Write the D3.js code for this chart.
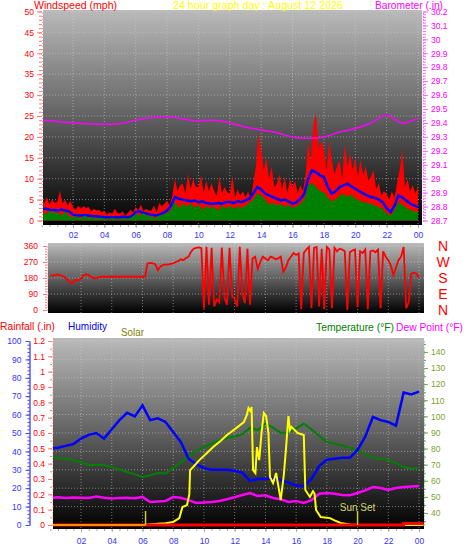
<!DOCTYPE html>
<html><head><meta charset="utf-8">
<script src="https://cdn.jsdelivr.net/npm/d3@7"></script>
<style>body{margin:0;background:#fff}svg{display:block;font-family:"Liberation Sans",Arial,sans-serif}</style>
</head><body><svg id="c" width="470" height="554"></svg>
<script>
// ---------------- DATA ----------------
const hourTicks = [2,4,6,8,10,12,14,16,18,20,22,24];
const hourLabels = ["02","04","06","08","10","12","14","16","18","20","22","00"];
const windTicks = [0,5,10,15,20,25,30,35,40,45,50];
const baroTicks = [28.7,28.8,28.9,29,29.1,29.2,29.3,29.4,29.5,29.6,29.7,29.8,29.9,30,30.1,30.2];
const dirTicks = [0,90,180,270,360];
const dirLetters = ["N","E","S","W","N"];
const humTicks = [0,10,20,30,40,50,60,70,80,90,100];
const rainTicks = [0,0.1,0.2,0.3,0.4,0.5,0.6,0.7,0.8,0.9,1,1.1,1.2];
const tempTicks = [40,50,60,70,80,90,100,110,120,130,140];

// wind gust, 10-minute samples (mph)
const gustStepHours = 1/6;
const windGust = [5.5,4.0,5.6,3.8,5.0,4.2, 4.5,7.2,4.0,5.0,3.5,4.8, 3.2,2.6,3.5,2.8,3.4,3.0,
  3.2,2.2,2.8,2.4,2.6,2.0, 2.4,1.4,2.0,1.6,2.8,1.8, 1.6,2.2,1.2,1.8,2.6,2.0,
  3.2,2.4,3.8,2.2,2.8,2.4, 2.4,3.6,2.0,4.2,3.4,4.0, 4.8,3.5,6.0,10.0,7.0,8.5,
  8.8,6.5,11.2,7.5,10.0,8.0, 8.0,10.8,6.5,9.5,7.0,9.0, 7.2,5.8,10.5,6.5,8.0,6.8,
  6.4,10.8,5.5,7.5,6.0,7.0, 5.6,7.0,5.0,9.0,13.0,21.0, 17.0,12.0,15.0,10.0,13.0,8.0,
  8.8,11.0,7.5,10.4,6.5,10.0, 8.0,9.5,6.5,8.5,7.0,11.0, 19.0,14.0,23.0,25.7,17.0,19.0,
  17.0,12.0,19.0,14.5,11.0,13.0, 14.5,10.0,18.5,13.0,16.0,12.0, 15.0,10.5,14.5,11.0,13.0,9.5,
  10.5,12.0,7.5,9.0,6.0,7.0, 6.4,5.0,7.0,5.5,9.0,12.0, 17.0,8.0,10.0,7.0,8.5,6.5, 8.0];

// average wind and wind speed, 15-minute samples (mph)
const windStepHours = 0.25;
const windAvg = [2.8,2.8,2.6,2.5, 2.4,2.6,2.4,2.2, 1.4,1.2,1.2,1.3, 1.2,1.0,1.0,0.9,
  0.8,0.8,0.7,0.8, 0.8,0.9,0.8,1.0, 2.0,2.2,1.8,1.6, 1.4,1.2,1.4,1.8,
  2.4,3.5,5.6,5.2, 5.0,4.8,4.6,4.8, 4.4,4.6,4.2,4.0, 4.0,4.2,4.0,4.4,
  4.4,4.2,4.6,4.4, 4.8,5.2,6.5,8.0, 7.5,6.4,6.0,5.6, 5.2,4.8,5.0,4.6,
  4.0,4.4,5.2,6.4, 10.0,12.0,11.5,10.8, 10.4,8.0,6.4,7.0, 8.0,8.4,8.8,8.2,
  7.6,7.0,6.5,6.0, 5.6,5.4,5.0,4.4, 3.0,2.0,3.5,6.0, 5.5,4.8,4.0,3.6, 3.2];
const windSpeed = [2.2,1.5,2.4,1.8, 2.0,1.2,2.2,1.0, 0.8,1.0,0.5,1.2, 0.6,0.8,0.4,0.7,
  0.5,0.3,0.6,0.4, 0.3,0.6,0.4,0.8, 1.6,1.2,1.8,1.0, 1.0,0.6,1.2,1.4,
  1.8,2.6,4.5,3.0, 4.0,3.2,4.2,3.0, 3.8,2.6,3.4,3.0, 3.2,2.4,3.6,2.8,
  3.6,2.8,3.4,3.0, 3.6,4.2,5.0,6.5, 6.0,5.0,3.8,4.2, 3.6,4.0,3.2,3.8,
  3.0,3.4,4.0,5.0, 8.5,9.0,8.0,7.0, 6.8,5.5,4.6,5.0, 6.0,6.4,5.6,6.2,
  5.2,4.8,4.4,4.2, 4.0,3.6,3.2,2.8, 1.6,1.2,2.4,4.4, 3.8,3.0,2.6,2.2, 2.0];

// barometer, hourly (inHg)
const baroStepHours = 1;
const barometer = [29.42,29.41,29.40,29.395,29.39,29.395,29.42,29.44,29.445,29.43,29.415,29.42,
  29.40,29.37,29.35,29.33,29.30,29.29,29.30,29.335,29.36,29.40,29.455,29.40,29.435];

// wind direction, 10-minute samples (degrees)
const dirStepHours = 1/6;
const windDir = [196,192,198,200,195,190, 180,165,150,158,170,168, 175,195,200,198,185,180,
  178,185,187,187,187,187, 187,187,187,187,187,187, 187,187,187,187,187,187,
  187,187,262,265,262,258, 224,245,252,256,255,260, 262,270,275,285,280,292,
  300,328,345,350,352,348, 8,355,30,350,20,60, 45,352,70,30,350,80,
  60,20,355,90,40,345, 30,290,300,230,270,300, 290,280,300,295,285,290,
  300,215,240,280,300,320, 310,318,5,320,340,355, 10,350,355,20,345,5,
  355,340,10,350,330,345, 340,330,0,325,335,340, 15,330,320,340,5,330,
  335,325,340,10,330,300, 280,250,196,240,280,300, 355,10,45,205,210,205, 180];

// half-hourly: humidity (%), temperature (F), dew point (F)
const halfStepHours = 0.5;
const humidity = [41.5,42,43,44,47,49,50,47,52,57,61,59,65,57,58,56,50.5,45,36,33,31,30,30,30,
  29.5,28.5,24,25,25,25.5,24.5,23,21.5,21,25,32,35.5,36,36.5,36.5,40.8,48,58.7,57,56,54,72,71,72.5];
const temperature = [74.8,74.2,73.5,72.9,71.5,69.8,70,69.8,68.5,67,65.5,64,62.4,63.5,64.8,64.5,
  68,71.5,75,78.5,81,83,85,86.6,87.5,89,92.8,91.5,95.5,93,89.7,90,92.5,95.5,92,88,84,83,82,80.5,
  79,76.5,74.2,73.5,72.9,71,68.5,67.5,68];
const dewPoint = [49.3,49.8,49.3,49.6,49.5,49.3,50.2,49.5,49,49.3,49.5,49.2,50,46.8,47.2,47.5,
  49.9,49.5,48,46.2,46.5,46.8,47.5,48.5,49.8,51.2,52.4,50.5,51,49.3,48.5,46.8,47.5,46.2,48,52,
  52.4,52,51.2,51,52.4,54,56.1,55.5,54.3,55.5,56.1,56.5,56.7];

// solar radiation (W/m2) at observed times (hours)
const solarHours = [0,6.2,6.4,7,7.5,8,8.4,8.6,8.9,9.05,9.1,9.3,9.7,10.2,10.6,11.1,11.5,12.1,12.6,12.8,12.9,
  13.05,13.1,13.2,13.35,13.45,13.6,13.75,13.9,14.05,14.2,14.3,14.5,14.7,14.85,15.0,15.2,15.35,15.5,15.6,
  15.7,16.1,16.5,16.6,16.9,17.1,17.2,17.3,17.6,18.2,18.5,18.9,19.5,20,24.3];
const solarValues = [0,0,3,8,12,20,45,117,130,200,358,378,423,470,508,550,587,632,671,720,763,
  740,770,358,339,508,423,600,730,710,600,313,274,339,250,163,326,508,710,620,
  640,600,587,228,183,220,205,98,52,45,30,13,3,0,0];

// rainfall (in) at observed times (hours)
const rainHours = [0,22.9,23.0,24.3];
const rainValues = [0,0,0.01,0.01];

const sunEvents = [{hour:6.2,label:""},{hour:20.0,label:"Sun Set"}];

// ---------------- DRAW ----------------
const svg = d3.select("#c");
const defs = svg.append("defs");
const grad = defs.append("linearGradient").attr("id","bg").attr("x1",0).attr("y1",0).attr("x2",0).attr("y2",1);
grad.append("stop").attr("offset","0%").attr("stop-color","#bababa");
grad.append("stop").attr("offset","45%").attr("stop-color","#6a6a6a");
grad.append("stop").attr("offset","100%").attr("stop-color","#000");

const FONT = "'Liberation Sans', Arial, sans-serif";
function panel(id, r){
  defs.append("clipPath").attr("id",id).append("rect")
    .attr("x",r.x0).attr("y",r.y0).attr("width",r.x1-r.x0).attr("height",r.y1-r.y0);
  svg.append("rect").attr("x",r.x0).attr("y",r.y0).attr("width",r.x1-r.x0).attr("height",r.y1-r.y0)
    .attr("fill","url(#bg)");
  return svg.append("g").attr("clip-path",`url(#${id})`);
}
function grid(g, r, xs, ys){
  g.selectAll(null).data(xs).enter().append("line")
    .attr("x1",d=>d).attr("x2",d=>d).attr("y1",r.y0).attr("y2",r.y1)
    .attr("stroke","#d0d0d0").attr("stroke-opacity",0.55).attr("stroke-dasharray","1,2");
  g.selectAll(null).data(ys).enter().append("line")
    .attr("y1",d=>d).attr("y2",d=>d).attr("x1",r.x0).attr("x2",r.x1)
    .attr("stroke","#d0d0d0").attr("stroke-opacity",0.55).attr("stroke-dasharray","1,2");
}
function styleAxis(g, tickColor, labelColor, domainColor, dash, size){
  g.attr("font-family",FONT).attr("font-size",size||8.5);
  g.select(".domain").attr("stroke",domainColor||"none").attr("stroke-dasharray",dash||null);
  g.selectAll(".tick line").attr("stroke",tickColor);
  g.selectAll(".tick text").attr("fill",labelColor);
}
function minor(axis, x, y, tickColor){
  const g = svg.append("g").attr("transform",`translate(${x},${y})`).call(axis);
  g.select(".domain").remove();
  g.selectAll(".tick text").remove();
  g.selectAll(".tick line").attr("stroke",tickColor);
}
function hdr(text, x, y, w, color, size){
  svg.append("text").attr("x",x).attr("y",y).attr("fill",color).attr("font-size",size)
    .attr("font-family",FONT).attr("textLength",w).attr("lengthAdjust","spacingAndGlyphs").text(text);
}
const hourFmt = d => hourLabels[hourTicks.indexOf(d)];

// ===== Top panel: wind + barometer =====
const T = {x0:43,x1:422,y0:10,y1:225};
const xT = d3.scaleLinear([0,24],[41.6,418]);
const yW = d3.scaleLinear([0,50],[220.5,11.5]);
const yB = d3.scaleLinear([28.7,30.2],[220.5,11.5]);
const gT = panel("clipT",T);
grid(gT, T, hourTicks.map(xT), windTicks.slice(1).map(yW));

const linArea = (x,y,step) => d3.area().x((d,i)=>x(i*step)).y0(y(0)).y1(d=>y(d));
gT.append("path").datum(windGust).attr("d",linArea(xT,yW,gustStepHours)).attr("fill","#ff0000");
gT.append("path").datum(windAvg)
  .attr("d",d3.line().x((d,i)=>xT(i*windStepHours)).y(d=>yW(d)))
  .attr("fill","none").attr("stroke","#0000ff").attr("stroke-width",2.5);
gT.append("path").datum(windSpeed).attr("d",linArea(xT,yW,windStepHours)).attr("fill","#008000");
gT.append("path").datum(barometer)
  .attr("d",d3.line().x((d,i)=>xT(i*baroStepHours)).y(d=>yB(d)).curve(d3.curveMonotoneX))
  .attr("fill","none").attr("stroke","#ff00ff").attr("stroke-width",1.5);

minor(d3.axisLeft(yW).ticks(40).tickSize(3).tickSizeOuter(0), 42, 0, "#ff7777");
styleAxis(svg.append("g").attr("transform","translate(42,0)")
  .call(d3.axisLeft(yW).tickValues(windTicks).tickSize(5).tickPadding(3).tickSizeOuter(0)),
  "#ff7777","#ff0000","#ff9999","1,2");
minor(d3.axisRight(yB).ticks(60).tickSize(3).tickSizeOuter(0), 423, 0, "#ff66ff");
styleAxis(svg.append("g").attr("transform","translate(423,0)")
  .call(d3.axisRight(yB).tickValues(baroTicks).tickSize(5).tickPadding(3).tickSizeOuter(0)
    .tickFormat(d=>String(+d.toFixed(1)))),
  "#ff66ff","#ff00ff","#ff66ff","1,2");
minor(d3.axisBottom(xT).ticks(48).tickSize(2).tickSizeOuter(0), 0, 225, "#aaaaaa");
styleAxis(svg.append("g").attr("transform","translate(0,225)")
  .call(d3.axisBottom(xT).tickValues(hourTicks).tickSize(3).tickPadding(4).tickSizeOuter(0).tickFormat(hourFmt)),
  "#aaaaaa","#3333ff","none");

hdr("Windspeed (mph)",34,9,83,"#ff0000",11.5);
hdr("24 hour graph day : August 12 2026",173,9,170,"#ffff00",11.5);
hdr("Barometer (.in)",375,8.5,68,"#ff00ff",11);

// ===== Middle panel: wind direction =====
const M = {x0:48,x1:424,y0:243,y1:313};
const xM = d3.scaleLinear([0,24],[50.3,419]);
const yD = d3.scaleLinear([0,360],[310,246]);
const gM = panel("clipM",M);
grid(gM, M, hourTicks.map(xM), dirTicks.slice(1).map(yD));
gM.append("path").datum(windDir)
  .attr("d",d3.line().x((d,i)=>xM(i*dirStepHours)).y(d=>yD(d)))
  .attr("fill","none").attr("stroke","#ff0000").attr("stroke-width",1.8);
minor(d3.axisLeft(yD).tickValues(d3.range(0,361,15)).tickSize(2).tickSizeOuter(0), 47, 0, "#ff7777");
styleAxis(svg.append("g").attr("transform","translate(47,0)")
  .call(d3.axisLeft(yD).tickValues(dirTicks).tickSize(4).tickPadding(5).tickSizeOuter(0)),
  "#ff7777","#ff0000","#ff9999","1,2");
svg.append("g").selectAll("text").data(dirTicks).enter().append("text")
  .attr("x",443).attr("y",d=>yD(d)+5).attr("text-anchor","middle")
  .attr("fill","#ff0000").attr("font-size",14).attr("font-family",FONT)
  .text((d,i)=>dirLetters[i]);

// ===== Bottom panel =====
const B = {x0:53,x1:424,y0:338,y1:529};
const xB = d3.scaleLinear([0,24],[50.3,419]);
const yR = d3.scaleLinear([0,1.2],[525,341]);
const yH = d3.scaleLinear([0,100],[525,341]);
const yTp = d3.scaleLinear([32.55,146.8],[525,341]);
const yS = d3.scaleLinear([0,1200],[525,341]);
const gB = panel("clipB",B);
grid(gB, B, hourTicks.map(xB), humTicks.slice(1).map(yH));

const halfLine = y => d3.line().x((d,i)=>xB(i*halfStepHours)).y(d=>y(d));
gB.append("path").datum(temperature).attr("d",halfLine(yTp))
  .attr("fill","none").attr("stroke","#008000").attr("stroke-width",2);
gB.append("path").datum(dewPoint).attr("d",halfLine(yTp))
  .attr("fill","none").attr("stroke","#ff00ff").attr("stroke-width",2.5);
gB.append("path").datum(humidity).attr("d",halfLine(yH))
  .attr("fill","none").attr("stroke","#0000ff").attr("stroke-width",2.5);
const solarPts = solarHours.map((h,i)=>({h, v:solarValues[i]}));
gB.append("path").datum(solarPts).attr("d",d3.line().x(d=>xB(d.h)).y(d=>yS(d.v)))
  .attr("fill","none").attr("stroke","#ffff00").attr("stroke-width",2);
const rainPts = rainHours.map((h,i)=>({h, v:rainValues[i]}));
gB.append("path").datum(rainPts).attr("d",d3.line().x(d=>xB(d.h)).y(d=>yR(d.v)).curve(d3.curveStepAfter))
  .attr("fill","none").attr("stroke","#ff0000").attr("stroke-width",3);
gB.append("path").datum(solarPts)
  .attr("d",d3.line().defined((d,i)=>d.v===0 && (i===0 || solarPts[i-1].v===0 || i===solarPts.length-1)).x(d=>xB(d.h)).y(d=>yS(d.v)))
  .attr("fill","none").attr("stroke","#ffcc00").attr("stroke-opacity",0.7).attr("stroke-width",2);
// sun events
gB.selectAll(null).data(sunEvents).enter().append("line")
  .attr("x1",d=>xB(d.hour)).attr("x2",d=>xB(d.hour)).attr("y1",yS(0)).attr("y2",yS(0)-14)
  .attr("stroke","#cccc33").attr("stroke-width",1.5);
gB.selectAll(null).data(sunEvents.filter(d=>d.label)).enter().append("text")
  .attr("x",d=>xB(d.hour)).attr("y",yS(0)-14).attr("text-anchor","middle")
  .attr("fill","#d4d466").attr("font-size",10).attr("font-family",FONT).text(d=>d.label);

// axes
minor(d3.axisLeft(yH).tickValues(d3.range(0,101,2)).tickSize(2).tickSizeOuter(0), 29.5, 0, "#4444ff");
styleAxis(svg.append("g").attr("transform","translate(29.5,0)")
  .call(d3.axisLeft(yH).tickValues(humTicks).tickSize(4).tickPadding(4).tickSizeOuter(0)),
  "#4444ff","#3333ff","#0000ff");
minor(d3.axisLeft(yR).tickValues(d3.range(0,1.21,0.05)).tickSize(2).tickSizeOuter(0), 52, 0, "#ff7777");
styleAxis(svg.append("g").attr("transform","translate(52,0)")
  .call(d3.axisLeft(yR).tickValues(rainTicks).tickSize(4).tickPadding(3).tickSizeOuter(0)
    .tickFormat(d=>String(+d.toFixed(1)))),
  "#ff7777","#ff0000","#ff9999","1,2");
minor(d3.axisRight(yTp).tickValues(d3.range(35,146,5)).tickSize(2).tickSizeOuter(0), 424, 0, "#66aa66");
styleAxis(svg.append("g").attr("transform","translate(424,0)")
  .call(d3.axisRight(yTp).tickValues(tempTicks).tickSize(4).tickPadding(3).tickSizeOuter(0)),
  "#66aa66","#7f9f2f","#66aa66","1,2");
minor(d3.axisBottom(xB).ticks(48).tickSize(2).tickSizeOuter(0), 0, 529, "#aaaaaa");
styleAxis(svg.append("g").attr("transform","translate(0,529)")
  .call(d3.axisBottom(xB).tickValues(hourTicks).tickSize(3).tickPadding(6).tickSizeOuter(0).tickFormat(hourFmt)),
  "#aaaaaa","#3333ff","none");

hdr("Rainfall (.in)",0,330,55,"#ff0000",11.5);
hdr("Humidity",68,330,39,"#0000ff",11.5);
hdr("Solar",121,336,23,"#808000",11.5);
hdr("Temperature (°F)",316,331,78,"#008000",11.5);
hdr("Dew Point (°F)",396,331,67,"#ff00ff",11.5);
</script></body></html>
